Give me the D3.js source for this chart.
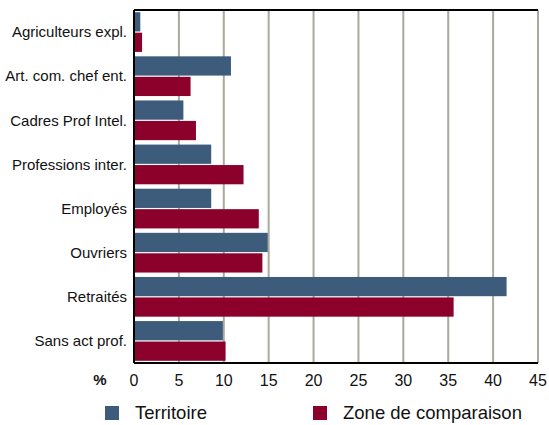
<!DOCTYPE html>
<html>
<head>
<meta charset="utf-8">
<script src="https://cdn.jsdelivr.net/npm/d3@7"></script>
<style>
  body { margin: 0; background: #fff; }
  svg text { font-family: "Liberation Sans", Arial, sans-serif; fill: #111; }
</style>
</head>
<body>
<div id="chart"></div>
<script>
// categories and series (percent)
const categories = ['Agriculteurs expl.', 'Art. com. chef ent.', 'Cadres Prof Intel.', 'Professions inter.',
  'Employés', 'Ouvriers', 'Retraités', 'Sans act prof.'];
const territoire = [0.7, 10.8, 5.5, 8.6, 8.6, 14.9, 41.5, 9.9];
const comparaison = [0.9, 6.3, 6.9, 12.2, 13.9, 14.3, 35.6, 10.2];
const seriesNames = ['Territoire', 'Zone de comparaison'];
const xTicks = [0, 5, 10, 15, 20, 25, 30, 35, 40, 45];

const colors = ['#3d5b7b', '#8c002c'];

const width = 549, height = 425;
const margin = {top: 10, left: 134, right: 11, bottom: 62};
const innerW = width - margin.left - margin.right;
const innerH = height - margin.top - margin.bottom;

const svg = d3.select('#chart').append('svg')
  .attr('width', width)
  .attr('height', height);

const g = svg.append('g').attr('transform', `translate(${margin.left},${margin.top})`);

const x = d3.scaleLinear().domain([0, 45]).range([0, innerW]);
const y = d3.scaleBand().domain(categories).range([0, innerH]).paddingInner(0.1).paddingOuter(0.05);
const ySub = d3.scaleBand().domain([0, 1]).range([0, y.bandwidth()]).paddingInner(0.06);

// gridlines
g.selectAll('.grid')
  .data(xTicks.filter(d => d > 0))
  .enter().append('line')
  .attr('x1', d => x(d)).attr('x2', d => x(d))
  .attr('y1', 0).attr('y2', innerH)
  .style('stroke', '#a9a99d')
  .style('stroke-width', 2);

// bars
const rows = categories.map((c, i) => ({cat: c, vals: [territoire[i], comparaison[i]]}));
const grp = g.selectAll('.row')
  .data(rows)
  .enter().append('g')
  .attr('transform', d => `translate(0,${y(d.cat)})`);

grp.selectAll('rect')
  .data(d => d.vals)
  .enter().append('rect')
  .attr('x', 0)
  .attr('y', (d, i) => ySub(i))
  .attr('width', d => x(d))
  .attr('height', ySub.bandwidth())
  .style('fill', (d, i) => colors[i]);

// frame: top, left, bottom
g.append('line').attr('x1', 0).attr('x2', innerW).attr('y1', 0).attr('y2', 0)
  .style('stroke', '#000').style('stroke-width', 2);
g.append('line').attr('x1', 0).attr('x2', 0).attr('y1', 0).attr('y2', innerH)
  .style('stroke', '#000').style('stroke-width', 2);
g.append('line').attr('x1', 0).attr('x2', innerW).attr('y1', innerH).attr('y2', innerH)
  .style('stroke', '#000').style('stroke-width', 2);

// category labels
g.selectAll('.cat')
  .data(categories)
  .enter().append('text')
  .attr('x', -7)
  .attr('y', d => y(d) + y.bandwidth() / 2)
  .attr('dy', '0.35em')
  .style('text-anchor', 'end')
  .style('font-size', '15px')
  .text(d => d);

// x tick labels
g.selectAll('.tick-label')
  .data(xTicks)
  .enter().append('text')
  .attr('x', d => x(d))
  .attr('y', innerH + 17)
  .attr('dy', '0.35em')
  .style('text-anchor', 'middle')
  .style('font-size', '16px')
  .text(d => d);

g.append('text')
  .attr('x', -34)
  .attr('y', innerH + 17)
  .attr('dy', '0.35em')
  .style('text-anchor', 'middle')
  .style('font-size', '15px')
  .style('font-weight', 'bold')
  .text('%');

// legend
const legendX = [105, 313];
const legend = svg.selectAll('.legend')
  .data(seriesNames)
  .enter().append('g')
  .attr('transform', (d, i) => `translate(${legendX[i]},406)`);

legend.append('rect')
  .attr('width', 14).attr('height', 14)
  .style('fill', (d, i) => colors[i]);

legend.append('text')
  .attr('x', 30)
  .attr('y', 7)
  .attr('dy', '0.35em')
  .style('font-size', '18.5px')
  .text(d => d);
</script>
</body>
</html>
